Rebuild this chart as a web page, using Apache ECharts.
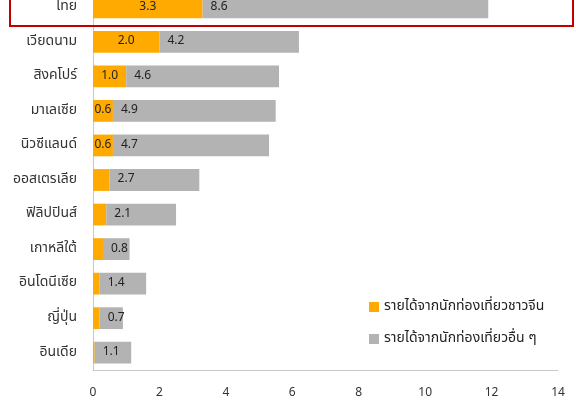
<!DOCTYPE html>
<html>
<head>
<meta charset="utf-8">
<script src="https://cdn.jsdelivr.net/npm/echarts@6/dist/echarts.min.js"></script>
<style>
  html, body { margin: 0; padding: 0; background: #fff; overflow: hidden; }
  #wrap { width: 576px; height: 403px; overflow: hidden; position: relative; }
  /* the plot starts slightly above the visible frame, so the first row is cut at the top */
  #chart { width: 576px; height: 413px; position: absolute; left: 0; top: -10px; }
</style>
</head>
<body>
<div id="wrap"><div id="chart"></div></div>
<script>
// Tourism revenue by country: share from Chinese visitors vs. other visitors
const countries = ['ไทย', 'เวียดนาม', 'สิงคโปร์', 'มาเลเซีย', 'นิวซีแลนด์', 'ออสเตรเลีย',
  'ฟิลิปปินส์', 'เกาหลีใต้', 'อินโดนีเซีย', 'ญี่ปุ่น', 'อินเดีย'];
const chineseRevenue = [3.3, 2.0, 1.0, 0.6, 0.6, 0.5, 0.4, 0.3, 0.2, 0.2, 0.05];
const otherRevenue = [8.6, 4.2, 4.6, 4.9, 4.7, 2.7, 2.1, 0.8, 1.4, 0.7, 1.1];
const seriesNames = ['รายได้จากนักท่องเที่ยวชาวจีน', 'รายได้จากนักท่องเที่ยวอื่น ๆ'];
const xTicks = { min: 0, max: 14, interval: 2 };

const FONT = '"Noto Sans Thai", "Noto Sans", sans-serif';
const chart = echarts.init(document.getElementById('chart'), null, { renderer: 'canvas' });

const labelBase = { show: true, color: '#222', fontSize: 12, fontFamily: FONT };

chart.setOption({
  animation: false,
  backgroundColor: '#fff',
  textStyle: { fontFamily: FONT },
  grid: { left: 93, right: 18, top: 0, bottom: 33, containLabel: false },
  legend: {
    orient: 'vertical',
    left: 364,
    top: 305,
    itemWidth: 10,
    itemHeight: 10,
    itemGap: 18,
    icon: 'rect',
    textStyle: { fontSize: 14, color: '#222', fontFamily: FONT },
    data: seriesNames
  },
  xAxis: {
    type: 'value',
    min: xTicks.min,
    max: xTicks.max,
    interval: xTicks.interval,
    splitLine: { show: false },
    axisTick: { show: false },
    axisLine: { show: true, lineStyle: { color: '#c8c8c8', width: 1 } },
    axisLabel: { color: '#333', fontSize: 12, margin: 18, fontFamily: FONT }
  },
  yAxis: {
    type: 'category',
    inverse: true,
    data: countries,
    axisTick: { show: false },
    axisLine: { show: true, lineStyle: { color: '#c8c8c8', width: 1 } },
    axisLabel: { color: '#333', fontSize: 14, margin: 16, fontFamily: FONT }
  },
  series: [
    {
      name: seriesNames[0],
      type: 'bar',
      stack: 'total',
      barCategoryGap: '37%',
      itemStyle: { color: '#FFAA00' },
      label: Object.assign({}, labelBase, {
        position: 'inside',
        formatter: p => (p.value >= 0.6 ? p.value.toFixed(1) : '')
      }),
      data: chineseRevenue
    },
    {
      name: seriesNames[1],
      type: 'bar',
      stack: 'total',
      barCategoryGap: '37%',
      itemStyle: { color: '#B3B3B3' },
      label: Object.assign({}, labelBase, {
        position: 'insideLeft',
        distance: 8,
        formatter: p => p.value.toFixed(1)
      }),
      data: otherRevenue
    }
  ]
});

// Highlight frame around the Thailand row, placed from the category axis
const yMid = chart.convertToPixel({ yAxisIndex: 0 }, countries[0]);
const yNext = chart.convertToPixel({ yAxisIndex: 0 }, countries[1]);
const band = yNext - yMid;
chart.setOption({
  graphic: [{
    type: 'rect',
    shape: { x: 10, y: yMid - band, width: 563, height: band + band * 0.54 },
    style: { fill: 'none', stroke: '#C00000', lineWidth: 2 },
    z: 100
  }]
});
</script>
</body>
</html>
